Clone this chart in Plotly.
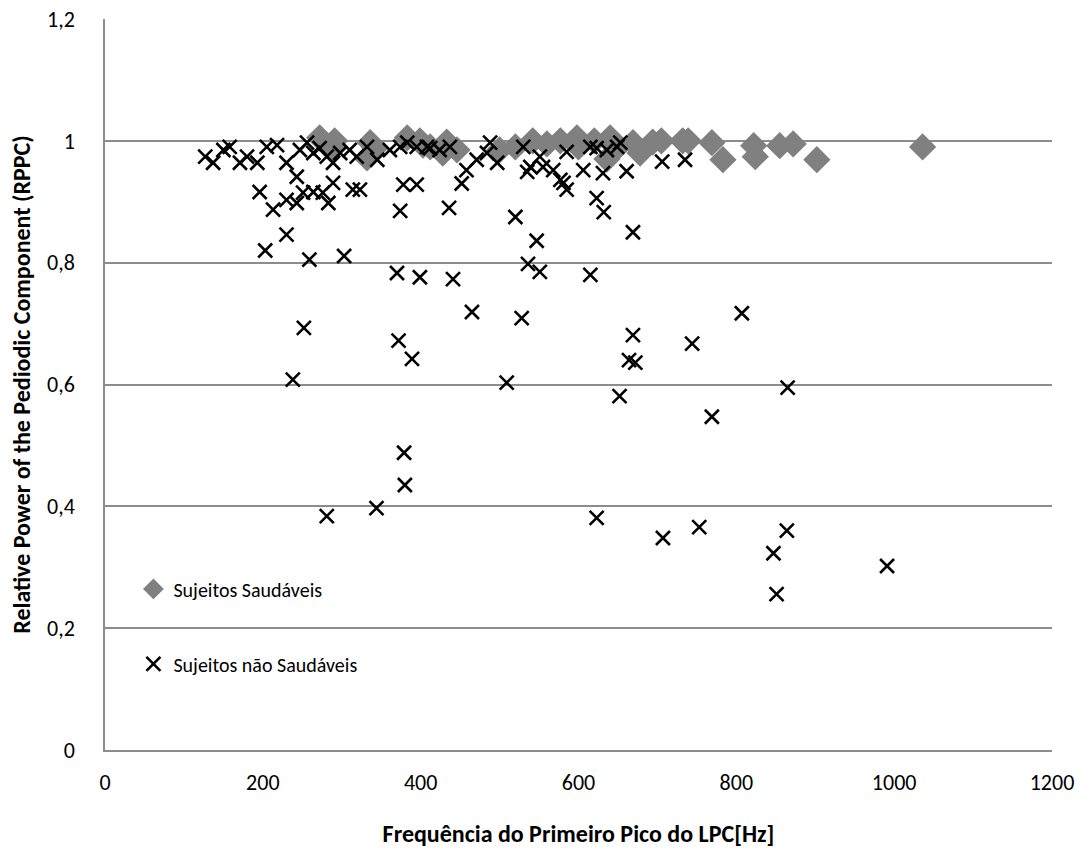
import plotly.graph_objects as go

# Sujeitos Saudáveis (healthy)
healthy_x = [272, 291, 289, 336, 342, 332, 383, 399, 403, 412, 428, 433, 446, 500,
             520, 542, 560, 577, 598, 600, 620, 636, 640, 650, 669, 678, 694, 705,
             732, 739, 769, 783, 822, 824, 855, 872, 902, 1036]
healthy_y = [1.005, 1.0, 0.99, 0.997, 0.988, 0.972, 1.005, 1.0, 0.993, 0.99, 0.98, 0.998,
             0.985, 0.985, 0.99, 1.0, 0.995, 1.0, 1.005, 0.99, 1.0, 0.97, 1.005, 0.99,
             0.997, 0.98, 0.998, 1.0, 1.0, 1.0, 0.997, 0.969, 0.992, 0.974, 0.992,
             0.995, 0.969, 0.99]

# Sujeitos não Saudáveis (unhealthy)
unhealthy_x = [127, 137, 150, 158, 171, 180, 193, 205, 218, 196, 213, 230, 203, 230,
               243, 251, 264, 276, 289, 314, 243, 230, 247, 256, 264, 272, 281, 289,
               298, 310, 319, 332, 345, 361, 374, 383, 395, 412, 424, 378, 395, 374,
               259, 303, 283, 323, 252, 370, 399, 441, 372, 389, 238, 379, 380, 344,
               281, 408, 437, 488, 484, 471, 458, 452, 497, 436, 520, 530, 539, 535,
               551, 555, 547, 568, 577, 581, 585, 585, 606, 615, 623, 623, 632, 636,
               631, 649, 653, 661, 669, 706, 735, 536, 551, 615, 465, 528, 509, 669,
               664, 672, 652, 744, 807, 769, 865, 623, 707, 753, 864, 847, 851, 991]
unhealthy_y = [0.974, 0.964, 0.985, 0.99, 0.964, 0.974, 0.964, 0.99, 0.993, 0.916,
               0.887, 0.846, 0.82, 0.903, 0.898, 0.915, 0.916, 0.915, 0.931, 0.92,
               0.941, 0.964, 0.985, 0.997, 0.98, 0.988, 0.974, 0.964, 0.98, 0.985,
               0.974, 0.99, 0.969, 0.985, 0.99, 0.997, 0.99, 0.988, 0.985, 0.928,
               0.928, 0.885, 0.805, 0.811, 0.898, 0.92, 0.693, 0.783, 0.776, 0.773,
               0.672, 0.642, 0.608, 0.488, 0.435, 0.397, 0.384, 0.99, 0.99, 0.997,
               0.98, 0.969, 0.952, 0.93, 0.964, 0.89, 0.875, 0.99, 0.957, 0.949,
               0.974, 0.957, 0.836, 0.952, 0.936, 0.931, 0.982, 0.92, 0.952, 0.99,
               0.988, 0.906, 0.883, 0.985, 0.947, 0.99, 0.997, 0.95, 0.85, 0.966,
               0.969, 0.798, 0.785, 0.78, 0.719, 0.709, 0.603, 0.681, 0.64, 0.636,
               0.581, 0.667, 0.717, 0.547, 0.595, 0.381, 0.348, 0.366, 0.36, 0.323,
               0.256, 0.302]

y_tickvals = [0, 0.2, 0.4, 0.6, 0.8, 1.0, 1.2]
y_ticktext = ["0", "0,2", "0,4", "0,6", "0,8", "1", "1,2"]
x_tickvals = [0, 200, 400, 600, 800, 1000, 1200]

FONT = "Carlito, Calibri, Lato, 'Open Sans', sans-serif"
GRID = "#8c8c8c"

fig = go.Figure()
fig.add_trace(go.Scatter(
    x=healthy_x, y=healthy_y, mode="markers", name="Sujeitos Saudáveis",
    legendgroup="a",
    marker=dict(symbol="diamond", size=21, color="#808080", line=dict(width=0)),
))
fig.add_trace(go.Scatter(
    x=unhealthy_x, y=unhealthy_y, mode="markers", name="Sujeitos não Saudáveis",
    legendgroup="b",
    marker=dict(symbol="x-thin", size=14, color="black",
                line=dict(width=2.6, color="black")),
))

fig.update_layout(
    width=1089, height=861,
    margin=dict(l=105, r=37, t=19, b=111),
    paper_bgcolor="white", plot_bgcolor="white",
    font=dict(family=FONT, size=21, color="black"),
    showlegend=True,
    legend=dict(x=0.03, y=0.247, xanchor="left", yanchor="top",
                bgcolor="rgba(0,0,0,0)", tracegroupgap=46,
                font=dict(size=20), itemsizing="trace"),
    xaxis=dict(
        range=[0, 1200], tickvals=x_tickvals, showgrid=False, zeroline=False,
        showline=True, linecolor=GRID, linewidth=1.5, ticks="",
        automargin=False,
        ticklabelstandoff=12, tickfont=dict(size=22),
        title=dict(text="<b>Frequência do Primeiro Pico do LPC[Hz]</b>",
                   font=dict(size=24), standoff=30),
    ),
    yaxis=dict(
        range=[0, 1.2], tickvals=y_tickvals, ticktext=y_ticktext,
        showgrid=True, gridcolor=GRID, gridwidth=1.5, zeroline=False,
        showline=True, linecolor=GRID, linewidth=1.5, ticks="",
        automargin=False,
        ticklabelstandoff=24, tickfont=dict(size=22),
        title=dict(text="<b>Relative Power of the Pediodic Component (RPPC)</b>",
                   font=dict(size=24), standoff=10),
    ),
)

fig.write_html("out.html")
